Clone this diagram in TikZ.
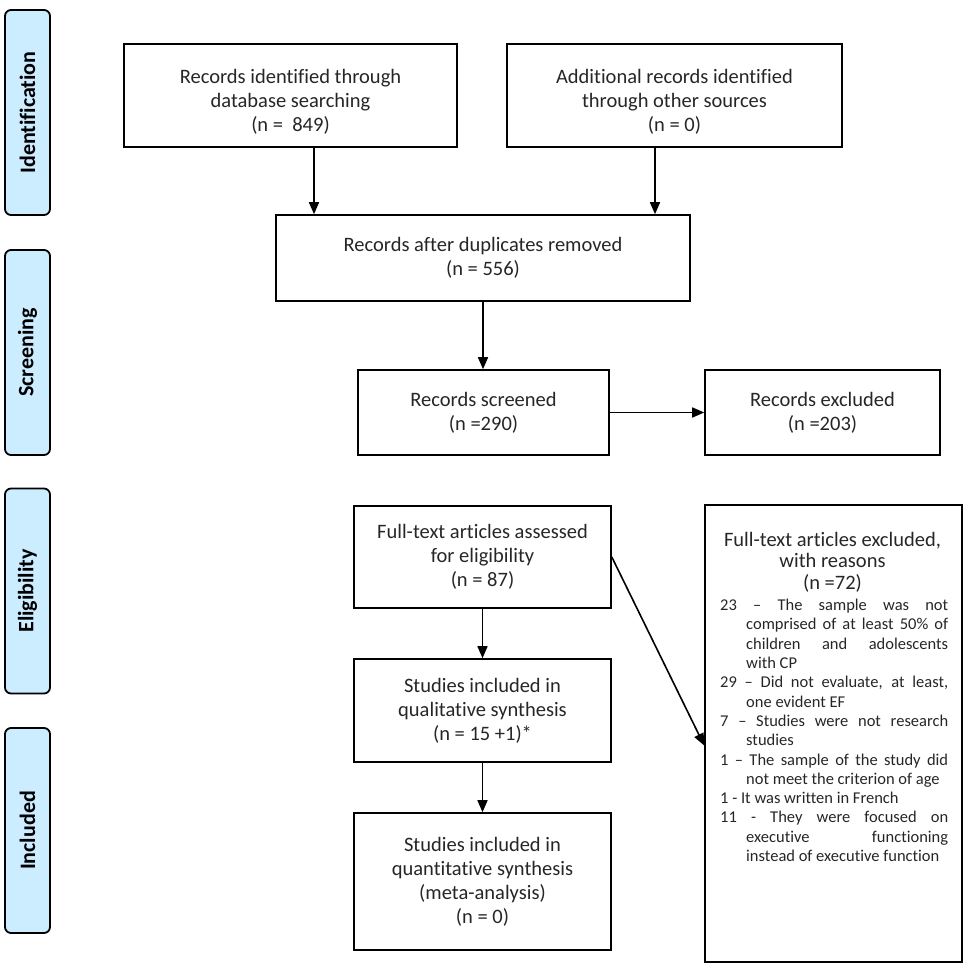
\documentclass[tikz,border=0pt]{standalone}
\usepackage{fontspec}
\setmainfont{Carlito}[Ligatures={NoCommon}]
\usetikzlibrary{arrows.meta,calc}
\definecolor{sidefill}{RGB}{204,236,255}
\definecolor{txt}{RGB}{38,38,38}
\begin{document}
\begin{tikzpicture}[x=1pt,y=-1pt,
  box/.style={draw, line width=1.6pt, text=txt, align=center, inner sep=0pt,
    font=\fontsize{20.5}{24}\selectfont},
  side/.style={draw, line width=1.8pt, rounded corners=6pt, fill=sidefill, rotate=90,
    font=\bfseries\fontsize{22}{26}\selectfont, minimum width=205pt, minimum height=45pt, inner sep=0pt},
  arr/.style={line width=1.6pt, -{Triangle[length=12pt,width=10pt]}},
  plain/.style={text=txt, inner sep=0pt}
]
\useasboundingbox (0,0) rectangle (964,965);

% phase labels
\node[side] (sid) at (27.5,112.5) {Identification};
\node[side] (sscr) at (27.5,352.5) {Screening};
\node[side] (selig) at (27.5,591) {Eligibility};
\node[side] (sinc) at (27.5,830.5) {Included};

% boxes
\node[box, minimum width=333pt, minimum height=103pt] (rec1) at (290.5,95.5)
  {\rule{0pt}{27pt}Records identified through\\database searching\\(n =\ \ 849)};
\node[box, minimum width=335pt, minimum height=103pt] (rec2) at (674.5,95.5)
  {\rule{0pt}{27pt}Additional records identified\\through other sources\\(n = 0)};
\node[box, minimum width=414pt, minimum height=86pt] (dup) at (483,258)
  {Records after duplicates removed\\(n = 556)};
\node[box, minimum width=251pt, minimum height=85pt] (scr) at (483.5,412.5)
  {Records screened\\(n =290)};
\node[box, minimum width=235pt, minimum height=85pt] (exc) at (822.5,412.5)
  {Records excluded\\(n =203)};
\node[box, minimum width=257pt, minimum height=102pt] (full) at (482.5,557)
  {Full-text articles assessed\\for eligibility\\(n = 87)};
\node[box, minimum width=257pt, minimum height=103pt] (qual) at (482.5,710.5)
  {Studies included in\\qualitative synthesis\\(n = 15 +1)*};
\node[box, minimum width=257pt, minimum height=137pt] (quant) at (482.5,881.5)
  {Studies included in\\quantitative synthesis\\(meta-analysis)\\(n = 0)};
\node[box, minimum width=257pt, minimum height=457pt] (fexc) at (833.5,733.5) {};

\node[plain, anchor=north, align=center, font=\fontsize{20.5}{21.5}\selectfont]
  (fexch) at (832.5,532)
  {Full-text articles excluded,\\with reasons\\(n =72)};
\node[plain, anchor=north west, text width=228pt, align=justify,
  font=\fontsize{16.5}{19.3}\selectfont] (fexcl) at (720,599)
  {\hyphenpenalty=10000\exhyphenpenalty=10000\emergencystretch=20pt
   \hangindent=26pt\hangafter=1 23 – The sample was not\linebreak comprised of at least 50\% of\linebreak children and adolescents\linebreak with CP\par
   \hangindent=26pt\hangafter=1 29 – Did not evaluate, at least,\linebreak one evident EF\par
   \hangindent=26pt\hangafter=1 7 – Studies were not research\linebreak studies\par
   \hangindent=26pt\hangafter=1 1 – The sample of the study did\linebreak not meet the criterion of age\par
   \hangindent=26pt\hangafter=1 1 - It was written in French\par
   \hangindent=26pt\hangafter=1 11 - They were focused on\linebreak executive functioning\linebreak instead of executive function\par};

% connectors
\coordinate (a1) at (314,0);
\coordinate (a2) at (655,0);
\draw[arr] (a1 |- rec1.south) -- (a1 |- dup.north);
\draw[arr] (a2 |- rec2.south) -- (a2 |- dup.north);
\draw[arr] (dup.south) -- (dup.south |- scr.north);
\draw[arr] (scr.east) -- (exc.west);
\draw[arr] (full.south) -- (qual.north);
\draw[arr] (qual.south) -- (quant.north);
\draw[arr] (full.east) -- ([yshift=-12pt]fexc.west);
\end{tikzpicture}
\end{document}
